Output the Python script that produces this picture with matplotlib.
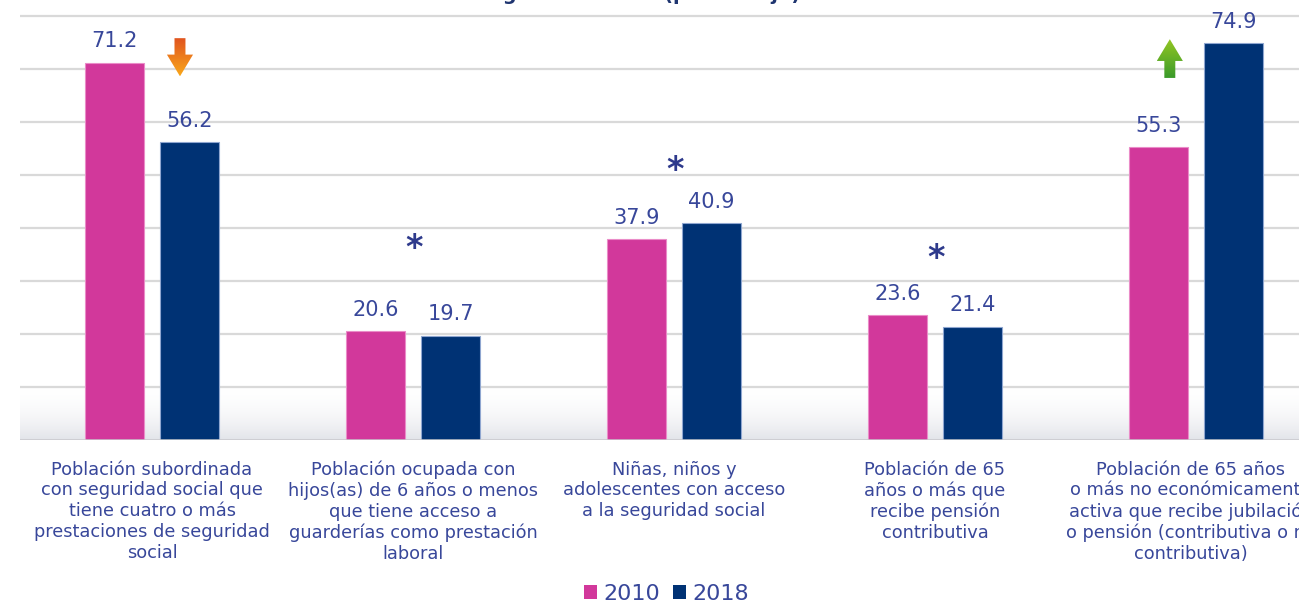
import numpy as np
import matplotlib
matplotlib.use("Agg")
import matplotlib.pyplot as plt
from matplotlib.patches import Polygon, Patch

# ── Data ──────────────────────────────────────────────────────────────────────
categories = [
    "Población subordinada\ncon seguridad social que\ntiene cuatro o más\nprestaciones de seguridad\nsocial",
    "Población ocupada con\nhijos(as) de 6 años o menos\nque tiene acceso a\nguarderías como prestación\nlaboral",
    "Niñas, niños y\nadolescentes con acceso\na la seguridad social",
    "Población de 65\naños o más que\nrecibe pensión\ncontributiva",
    "Población de 65 años\no más no económicamente\nactiva que recibe jubilación\no pensión (contributiva o no\ncontributiva)",
]
years = ["2010", "2018"]
vals_2010 = [71.2, 20.6, 37.9, 23.6, 55.3]
vals_2018 = [56.2, 19.7, 40.9, 21.4, 74.9]
title = "Indicadores de seguridad social (porcentaje)"

# groups marked with an asterisk (no significant change)
star_groups = [1, 2, 3]
star_y = [38.3, 53.0, 36.3]

# ── Style ─────────────────────────────────────────────────────────────────────
C_2010 = "#d2389b"
C_2018 = "#003274"
C_TEXT = "#38479a"
C_GRID = "#d9d9d9"

plt.rcParams["font.family"] = ["DejaVu Sans"]

fig = plt.figure(figsize=(12.99, 6.05), dpi=100)
ax = fig.add_axes([0.0154, 0.2727, 0.9846, 0.7273])
ax.set_xlim(-0.506, 4.395)
ax.set_ylim(0, 83.0)
ax.axis("off")

x = np.arange(len(categories))
w = 0.226
off = 0.1437

# gridlines
for yv in range(10, 90, 10):
    ax.axhline(yv, color=C_GRID, lw=1.6, zorder=1)
ax.axhline(0, color="#c8c8cc", lw=1.8, zorder=3)

# soft floor shading, darker near the baseline
n = 200
ramp = np.linspace(1, 0, n) ** 2.2
grad = np.zeros((n, 2, 4))
grad[..., 0] = 0.84
grad[..., 1] = 0.85
grad[..., 2] = 0.88
grad[..., 3] = (ramp * 0.7)[:, None]
ax.imshow(grad, extent=[-0.506, 4.395, 0, 11], aspect="auto",
          origin="lower", zorder=0.5, interpolation="bilinear")

b1 = ax.bar(x - off, vals_2010, w, color=C_2010, edgecolor="#ea8cc8",
            linewidth=0.8, zorder=2)
b2 = ax.bar(x + off, vals_2018, w, color=C_2018, edgecolor="#8fa6d0",
            linewidth=0.8, zorder=2)

for bars, vals in [(b1, vals_2010), (b2, vals_2018)]:
    for r, v in zip(bars, vals):
        ax.annotate(f"{v:.1f}", (r.get_x() + r.get_width() / 2, v),
                    xytext=(0, 8), textcoords="offset points",
                    ha="center", va="bottom", fontsize=15, color=C_TEXT)

# asterisks
for g, yv in zip(star_groups, star_y):
    ax.annotate("*", (x[g] + 0.005, yv), xytext=(0, -15),
                textcoords="offset points", ha="center", va="baseline",
                fontsize=24, fontweight="bold", color="#2e3a8c")

# gradient arrows (down for first group, up for last)
def grad_arrow(xc, y_tail, y_tip, c_tail, c_tip):
    sw, hw = 0.021, 0.05
    hl = 4.1 * np.sign(y_tip - y_tail)
    pts = [(xc - sw, y_tail), (xc + sw, y_tail), (xc + sw, y_tip - hl),
           (xc + hw, y_tip - hl), (xc, y_tip), (xc - hw, y_tip - hl),
           (xc - sw, y_tip - hl)]
    poly = Polygon(pts, closed=True, facecolor="none", edgecolor="none")
    ax.add_patch(poly)
    c0 = np.array(matplotlib.colors.to_rgb(c_tail))
    c1 = np.array(matplotlib.colors.to_rgb(c_tip))
    t = np.linspace(0, 1, 100)[:, None]
    img = (c0 * (1 - t) + c1 * t)[:, None, :]
    lo, hi = min(y_tail, y_tip), max(y_tail, y_tip)
    im = ax.imshow(img, extent=[xc - hw, xc + hw, lo, hi], aspect="auto",
                   origin="lower" if y_tip > y_tail else "upper", zorder=4)
    im.set_clip_path(poly)

grad_arrow(x[0] + 0.107, 75.8, 68.6, "#e0521f", "#f9a71a")
grad_arrow(x[4] - 0.10, 68.3, 75.6, "#3a9a2a", "#93c623")

# category labels
for xi, lab in zip(x, categories):
    ax.text(xi - (0.02 if xi == 4 else 0), -3.9, lab, ha="center", va="top",
            fontsize=12.8, color=C_TEXT, linespacing=1.2, clip_on=False)

# title (cropped at the top edge of the picture)
fig.text(0.616, 1.0, title, ha="right", va="baseline", fontsize=14,
         fontweight="bold", color="#1f3570")

# legend
handles = [Patch(facecolor=C_2010), Patch(facecolor=C_2018)]
fig.legend(handles, years, loc="center", bbox_to_anchor=(0.513, 0.018),
           ncol=2, frameon=False, fontsize=16, handlelength=0.6,
           handleheight=0.6, handletextpad=0.25, columnspacing=0.6,
           labelcolor=C_TEXT)

plt.savefig("out.png", dpi=100)
